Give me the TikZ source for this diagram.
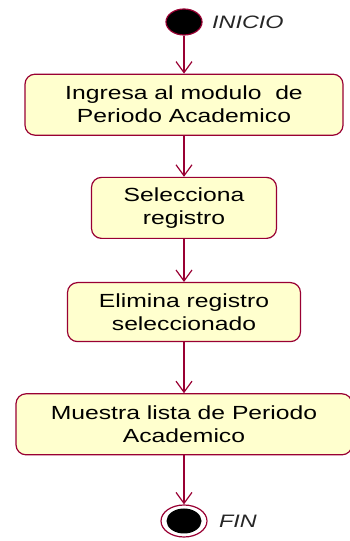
\documentclass[tikz,border=0pt]{standalone}
\usepackage{fontspec}
\setmainfont{Liberation Sans}[FakeStretch=1.3]
\usepackage{tikz}
\usetikzlibrary{shapes.geometric,arrows.meta,positioning}
\definecolor{umlborde}{RGB}{153, 0, 51}
\definecolor{umlfondo}{RGB}{255, 255, 206}

\begin{document}
\begin{tikzpicture}[x=1pt, y=1pt, node distance=40pt, >={Straight Barb[length=11pt, width=16pt]},
        actividad/.style={draw=umlborde, line width=1.2pt, rectangle, rounded corners=10pt, fill=umlfondo, align=center, minimum height=61pt, font=\fontsize{19}{23}\selectfont, inner sep=0pt},
        flujo/.style={->, draw=umlborde, line width=1.2pt},
        etiqueta/.style={font=\fontsize{18}{22}\selectfont\itshape, text=black!85}]
        \useasboundingbox (0,0) rectangle (350,541);

        \node[ellipse, draw=umlborde, line width=1.2pt, fill=black, minimum width=36pt, minimum height=26pt, inner sep=0pt] (ini) at (184,519) {};
        \node[etiqueta, right=6pt of ini] (tini) {INICIO};

        \node[actividad, minimum width=318pt, below=38pt of ini] (ingresa) {Ingresa al modulo \ de\\Periodo Academico};
        \node[actividad, minimum width=185pt, below=41pt of ingresa] (selecciona) {Selecciona\\registro};
        \node[actividad, minimum width=233pt, minimum height=59pt, below=43pt of selecciona] (elimina) {Elimina registro\\seleccionado};
        \node[actividad, minimum width=336pt, below=51pt of elimina] (muestra) {Muestra lista de Periodo\\Academico};

        % Fin
        \node[ellipse, draw=umlborde, line width=1.2pt, fill=white, minimum width=46pt, minimum height=32pt, inner sep=0pt, below=49pt of muestra] (fin) {};
        \node[ellipse, fill=black, minimum width=35pt, minimum height=25pt, inner sep=0pt] (finc) at (fin.center) {};
        \node[etiqueta, right=8pt of fin] (tfin) {FIN};

        \draw[flujo] (ini) -- (ingresa);
        \draw[flujo] (ingresa) -- (selecciona);
        \draw[flujo] (selecciona) -- (elimina);
        \draw[flujo] (elimina) -- (muestra);
        \draw[flujo] (muestra) -- (fin);
    \end{tikzpicture}
\end{document}
